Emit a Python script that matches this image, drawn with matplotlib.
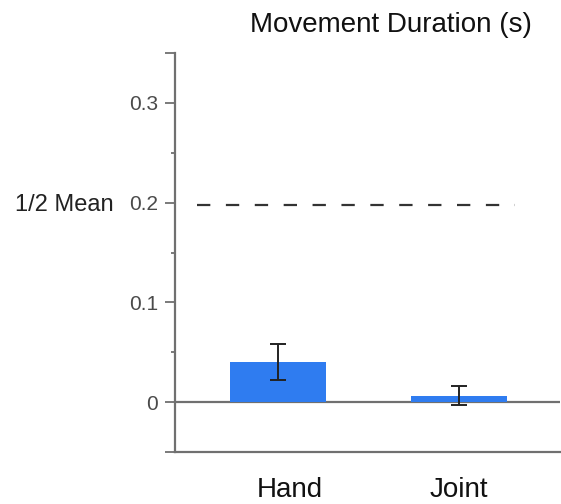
import matplotlib.pyplot as plt
import matplotlib.transforms as mtransforms

# values
groups = ["Hand", "Joint"]
durations = [0.0405, 0.0065]
errors = [0.018, 0.0095]
half_mean = 0.198

ytick_vals = [-0.05, 0, 0.1, 0.2, 0.3, 0.35]
ytick_labels = ["", "0", "0.1", "0.2", "0.3", ""]
yminor_vals = [0.05, 0.15, 0.25]

plt.rcParams['font.family'] = ['Liberation Sans', 'DejaVu Sans']

fig = plt.figure(figsize=(5.61, 5.04), dpi=100)
ax = fig.add_axes([175 / 561, 52 / 504, 385 / 561, 399 / 504])

xpos = list(range(len(groups)))
ax.axhline(0, color="#707070", lw=1.6, zorder=1)
ax.bar(xpos, durations, width=0.53, color="#2F7CF0", zorder=2)
ax.errorbar(xpos, durations, yerr=errors, fmt="none", ecolor="#222222",
            elinewidth=1.4, capsize=6, capthick=1.4, zorder=3)

# dashed half-mean reference
ax.axhline(half_mean, xmin=0.057, xmax=0.883, color="#333333", lw=1.6,
           dashes=(6, 7), zorder=1)
trans = mtransforms.blended_transform_factory(ax.transAxes, ax.transData)
ax.text(-0.16, half_mean, "1/2 Mean", transform=trans, ha="right",
        va="center", fontsize=17, color="#222222")

ax.set_xlim(-0.57, 1.56)
ax.set_ylim(-0.05, 0.35)
ax.set_xticks(xpos)
ax.set_xticklabels(groups, fontsize=20, color="#111111")
ax.tick_params(axis="x", length=0, pad=18)
# the Hand label sits a little right of its bar in the original
hand_lbl = ax.get_xticklabels()[0]
hand_lbl.set_transform(hand_lbl.get_transform() +
                       mtransforms.ScaledTranslation(0.12, 0, fig.dpi_scale_trans))

ax.set_yticks(ytick_vals)
ax.set_yticklabels(ytick_labels, fontsize=15, color="#4a4a4a")
ax.set_yticks(yminor_vals, minor=True)
ax.tick_params(axis="y", which="major", length=7, width=1.3,
               color="#707070", pad=5)
ax.tick_params(axis="y", which="minor", length=3, width=1.3, color="#707070")

for side in ["top", "right"]:
    ax.spines[side].set_visible(False)
for side in ["left", "bottom"]:
    ax.spines[side].set_color("#707070")
    ax.spines[side].set_linewidth(1.6)

ax.set_title("Movement Duration (s)", fontsize=20, color="#111111",
             x=0.56, pad=15)

fig.savefig("out.png", dpi=100)
